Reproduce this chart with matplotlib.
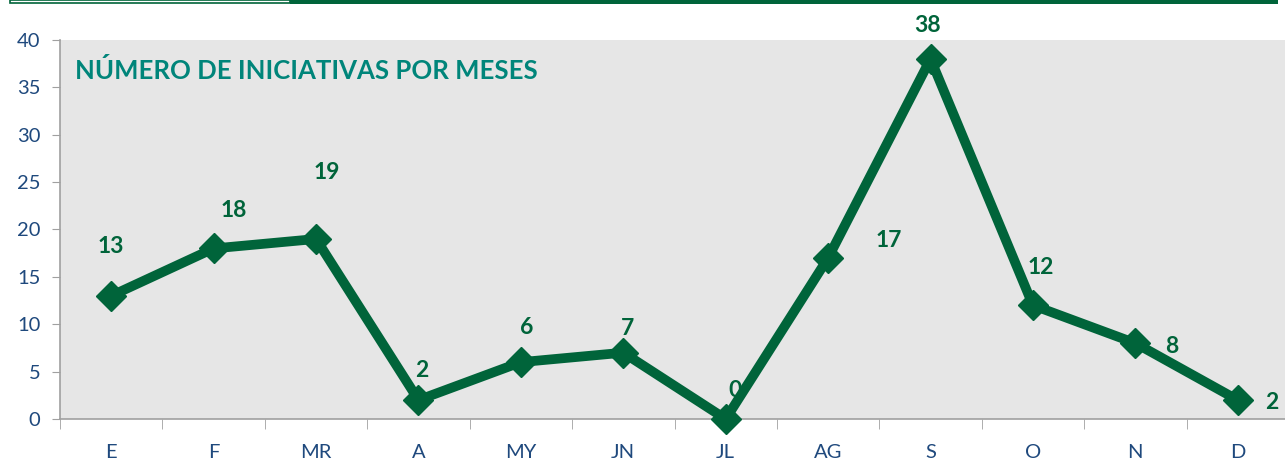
import matplotlib.pyplot as plt
from matplotlib.patches import Rectangle

# monthly counts
months = ["E", "F", "MR", "A", "MY", "JN", "JL", "AG", "S", "O", "N", "D"]
counts = [13, 18, 19, 2, 6, 7, 0, 17, 38, 12, 8, 2]
# label offsets in pixels (dx, dy) relative to each point
label_offsets = [(0, 49), (20, 38), (11, 66), (3, 30), (6, 35), (4, 24),
                 (9, 29), (61, 17), (-3, 33), (8, 38), (36, -3), (34, -2)]

GREEN = "#00643A"
TEAL = "#00857A"
BLUE = "#1F497D"

plt.rcParams["font.family"] = ["Lato", "DejaVu Sans"]

fig = plt.figure(figsize=(12.85, 4.61), dpi=100)
ax = fig.add_axes([60 / 1285, 42 / 461, 1229 / 1285, 379 / 461])
ax.set_facecolor("#E6E6E6")

x = list(range(len(months)))
ax.plot(x, counts, color=GREEN, linewidth=7, marker="D", markersize=15.5,
        markerfacecolor=GREEN, markeredgecolor=GREEN, zorder=3, clip_on=False)

for xi, v, (dx, dy) in zip(x, counts, label_offsets):
    ax.annotate(str(v), (xi, v), xytext=(dx, dy), textcoords="offset pixels",
                ha="center", va="center", fontsize=16.5, fontweight="bold",
                color=GREEN, zorder=2, annotation_clip=False)

ax.set_xlim(-0.5, 11.5)
ax.set_ylim(0, 40)
ax.set_yticks(range(0, 41, 5))
ax.set_xticks(x)
ax.set_xticklabels(months)
ax.set_xticks([i + 0.5 for i in range(-1, 12)], minor=True)
ax.tick_params(axis="x", which="major", length=0, pad=18, labelsize=14.5, labelcolor=BLUE)
ax.tick_params(axis="x", which="minor", length=7, color="#A0A0A0", direction="out")
ax.tick_params(axis="y", length=6, color="#A0A0A0", labelsize=14.5, labelcolor=BLUE, pad=8)

for side in ["top", "right"]:
    ax.spines[side].set_visible(False)
for side in ["left", "bottom"]:
    ax.spines[side].set_color("#A0A0A0")
    ax.spines[side].set_linewidth(1.2)

ax.text(15 / 1229, 0.92, "NÚMERO DE INICIATIVAS POR MESES", transform=ax.transAxes,
        fontsize=18.5, fontweight="bold", color=TEAL, ha="left", va="center")

# decorative strip at the top
fig.patches.append(Rectangle((10 / 1285, 1 - 3 / 461), 280 / 1285, 3 / 461,
                             transform=fig.transFigure, facecolor="white",
                             edgecolor=GREEN, linewidth=1.2))
fig.patches.append(Rectangle((290 / 1285, 1 - 4 / 461), 988 / 1285, 4 / 461,
                             transform=fig.transFigure, facecolor=GREEN,
                             edgecolor="none"))

fig.savefig("out.png", dpi=100)
